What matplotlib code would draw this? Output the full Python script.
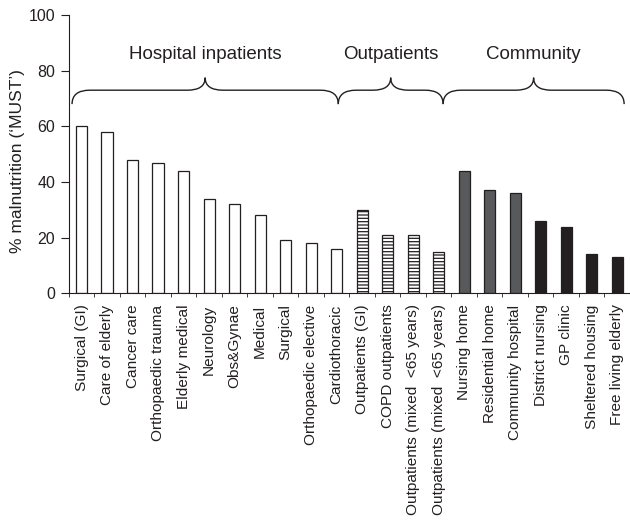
import numpy as np
import matplotlib.pyplot as plt
from matplotlib.path import Path
from matplotlib.patches import PathPatch

plt.rcParams['font.family'] = ['Liberation Sans', 'DejaVu Sans']
plt.rcParams['hatch.linewidth'] = 0.9

# Data
inpatients = ['Surgical (GI)', 'Care of elderly', 'Cancer care', 'Orthopaedic trauma',
              'Elderly medical', 'Neurology', 'Obs&Gynae', 'Medical', 'Surgical',
              'Orthopaedic elective', 'Cardiothoracic']
inpatient_vals = [60, 58, 48, 47, 44, 34, 32, 28, 19, 18, 16]

outpatients = ['Outpatients (GI)', 'COPD outpatients', 'Outpatients (mixed  <65 years)',
               'Outpatients (mixed  <65 years)']
outpatient_vals = [30, 21, 21, 15]

care_homes = ['Nursing home', 'Residential home', 'Community hospital']
care_home_vals = [44, 37, 36]

community = ['District nursing', 'GP clinic', 'Sheltered housing', 'Free living elderly']
community_vals = [26, 24, 14, 13]

group_names = ['Hospital inpatients', 'Outpatients', 'Community']

labels = inpatients + outpatients + care_homes + community
ink = '#231f20'

fig = plt.figure(figsize=(6.3, 5.2), dpi=100)
ax = fig.add_axes([0.1095, 0.436, 0.8905, 0.535])

w = 0.45
x = np.arange(len(labels))
n1, n2, n3 = len(inpatients), len(outpatients), len(care_homes)
ax.bar(x[:n1], inpatient_vals, w, color='white', edgecolor=ink, linewidth=0.9)
ax.bar(x[n1:n1 + n2], outpatient_vals, w, color='white', edgecolor=ink,
       linewidth=0.9, hatch='-----')
ax.bar(x[n1 + n2:n1 + n2 + n3], care_home_vals, w, color='#58595b', edgecolor=ink,
       linewidth=0.9)
ax.bar(x[n1 + n2 + n3:], community_vals, w, color=ink, edgecolor=ink, linewidth=0.9)

# Curly braces over groups
def brace(ax, x0, x1, yb=73, ye=68, yt=77.5, dx=0.7):
    xt = (x0 + x1) / 2
    verts = [(x0, ye), (x0, yb), (x0 + dx, yb),
             (xt - dx, yb),
             (xt, yb), (xt, yt),
             (xt, yb), (xt + dx, yb),
             (x1 - dx, yb),
             (x1, yb), (x1, ye)]
    codes = [Path.MOVETO, Path.CURVE3, Path.CURVE3,
             Path.LINETO,
             Path.CURVE3, Path.CURVE3,
             Path.CURVE3, Path.CURVE3,
             Path.LINETO,
             Path.CURVE3, Path.CURVE3]
    ax.add_patch(PathPatch(Path(verts, codes), fill=False, edgecolor=ink,
                           linewidth=1.0, clip_on=False))
    return xt

edges = [-0.38, 10.06, 14.17, 21.27]
for i, name in enumerate(group_names):
    xt = brace(ax, edges[i], edges[i + 1])
    ax.text(xt, 86.0, name, ha='center', va='center', fontsize=13.5, color=ink)

ax.set_xlim(-0.5, 21.35)
ax.set_ylim(0, 100)
ax.set_yticks([0, 20, 40, 60, 80, 100])
ax.set_xticks(x)
ax.set_xticklabels(labels, rotation=90, fontsize=11.1, color=ink)
ax.set_xticks(np.arange(len(labels) + 1) - 0.5, minor=True)
ax.tick_params(axis='x', which='major', length=0, pad=8)
ax.tick_params(axis='x', which='minor', length=3, direction='out', color=ink)
ax.tick_params(axis='y', length=6, pad=4, labelsize=11.5, colors=ink)
ax.set_ylabel("% malnutrition (\u2018MUST\u2019)", fontsize=12.5, color=ink)
ax.yaxis.set_label_coords(-0.078, 0.477)

for s in ['top', 'right']:
    ax.spines[s].set_visible(False)
for s in ['left', 'bottom']:
    ax.spines[s].set_color(ink)

plt.savefig('out.png', dpi=100)
